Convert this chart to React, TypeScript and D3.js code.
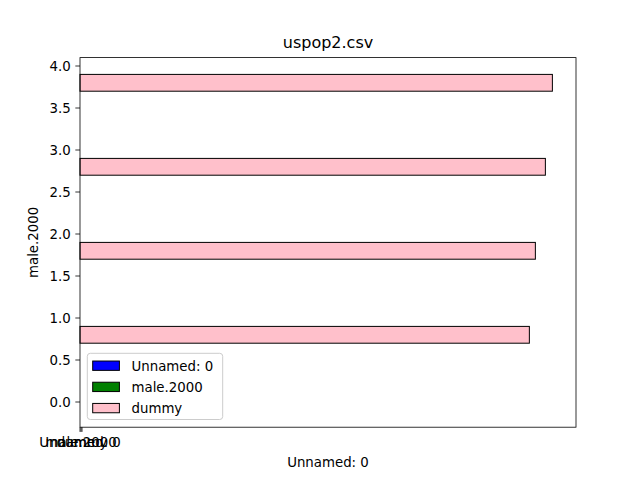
import { useEffect, useRef } from 'react';
import * as d3 from 'd3';

// ─── Data ───────────────────────────────────────────────────

const title = 'uspop2.csv';
const xLabel = 'Unnamed: 0';
const yLabel = 'male.2000';

// row positions on the y axis (bars sit at pos + offset)
const rows = [0, 1, 2, 3];
const dummyValues = [449, 455, 465, 472];

// the x ticks all fall at (nearly) the same spot, so their labels pile up
const xTickValues = [0, 1, 2];
const xTickLabels = ['Unnamed: 0', 'male.2000', 'dummy'];

const yTicks = [0, 0.5, 1, 1.5, 2, 2.5, 3, 3.5, 4];

const legendNames = ['Unnamed: 0', 'male.2000', 'dummy'];
const legendColors = ['#0000ff', '#008000', '#ffc0cb'];

// ─── Component ──────────────────────────────────────────────

export default function App() {
  const svgRef = useRef<SVGSVGElement>(null);

  useEffect(() => {
    if (!svgRef.current) return;
    const svg = d3.select(svgRef.current);
    svg.selectAll('*').remove();

    const W = 640;
    const H = 480;
    const margin = { top: 57.6, right: 64, bottom: 52.8, left: 80 };
    const iw = W - margin.left - margin.right;
    const ih = H - margin.top - margin.bottom;
    const font = 'DejaVu Sans, sans-serif';

    svg.append('rect').attr('width', W).attr('height', H).attr('fill', '#fff');

    const x = d3.scaleLinear()
      .domain([0, (d3.max(dummyValues) ?? 1) * 1.05])
      .range([0, iw]);
    const y = d3.scaleLinear().domain([-0.3, 4.1]).range([ih, 0]);

    const g = svg.append('g').attr('transform', `translate(${margin.left},${margin.top})`);

    // bars
    const barOffset = 0.8;
    const barH = 0.2;
    g.selectAll('rect.bar')
      .data(rows.map((r, i) => ({ pos: r + barOffset, v: dummyValues[i] })))
      .join('rect')
      .attr('class', 'bar')
      .attr('x', x(0))
      .attr('y', (d) => y(d.pos + barH / 2))
      .attr('width', (d) => x(d.v) - x(0))
      .attr('height', (d) => y(d.pos - barH / 2) - y(d.pos + barH / 2))
      .attr('fill', legendColors[2])
      .attr('stroke', '#000')
      .attr('stroke-width', 1);

    // spines
    g.append('rect')
      .attr('width', iw).attr('height', ih)
      .attr('fill', 'none').attr('stroke', '#000').attr('stroke-width', 0.8);

    // y axis
    const yAxis = g.append('g');
    yAxis.selectAll('line')
      .data(yTicks)
      .join('line')
      .attr('x1', -4.67).attr('x2', 0)
      .attr('y1', (d) => y(d)).attr('y2', (d) => y(d))
      .attr('stroke', '#000').attr('stroke-width', 0.8);
    yAxis.selectAll('text')
      .data(yTicks)
      .join('text')
      .attr('x', -9.3)
      .attr('y', (d) => y(d))
      .attr('dy', '0.36em')
      .attr('text-anchor', 'end')
      .attr('font-family', font)
      .attr('font-size', 13.33)
      .text((d) => d.toFixed(1));

    // x axis
    const xAxis = g.append('g').attr('transform', `translate(0,${ih})`);
    xAxis.selectAll('line')
      .data(xTickValues)
      .join('line')
      .attr('x1', (d) => x(d)).attr('x2', (d) => x(d))
      .attr('y1', 0).attr('y2', 4.67)
      .attr('stroke', '#000').attr('stroke-width', 0.8);
    xAxis.selectAll('text')
      .data(xTickValues)
      .join('text')
      .attr('x', (d) => x(d))
      .attr('y', 20)
      .attr('text-anchor', 'middle')
      .attr('font-family', font)
      .attr('font-size', 13.33)
      .text((_, i) => xTickLabels[i]);

    // axis labels + title
    svg.append('text')
      .attr('x', margin.left + iw / 2).attr('y', 467)
      .attr('text-anchor', 'middle')
      .attr('font-family', font).attr('font-size', 13.33)
      .text(xLabel);
    svg.append('text')
      .attr('transform', `translate(38,${margin.top + ih / 2}) rotate(-90)`)
      .attr('text-anchor', 'middle')
      .attr('font-family', font).attr('font-size', 13.33)
      .text(yLabel);
    svg.append('text')
      .attr('x', margin.left + iw / 2).attr('y', 48)
      .attr('text-anchor', 'middle')
      .attr('font-family', font).attr('font-size', 16)
      .text(title);

    // legend (lower left)
    const lg = g.append('g').attr('transform', `translate(7.3,${ih - 7.7 - 66.2})`);
    lg.append('rect')
      .attr('width', 135.4).attr('height', 66.2)
      .attr('rx', 3)
      .attr('fill', '#fff').attr('fill-opacity', 0.8)
      .attr('stroke', '#cccccc').attr('stroke-width', 1);
    const rowY = d3.scalePoint<number>().domain([0, 1, 2]).range([12.4, 54.8]);
    const item = lg.selectAll('g.item')
      .data(legendNames)
      .join('g')
      .attr('class', 'item')
      .attr('transform', (_, i) => `translate(0,${rowY(i)})`);
    item.append('rect')
      .attr('x', 5.4).attr('y', -4.67)
      .attr('width', 26.7).attr('height', 9.33)
      .attr('fill', (_, i) => legendColors[i])
      .attr('stroke', '#000').attr('stroke-width', 1);
    item.append('text')
      .attr('x', 44.2)
      .attr('dy', '0.36em')
      .attr('font-family', font).attr('font-size', 13.33)
      .text((d) => d);
  }, []);

  return (
    <svg
      ref={svgRef}
      width={640}
      height={480}
      style={{ position: 'absolute', left: 0, top: 0, display: 'block' }}
    />
  );
}
